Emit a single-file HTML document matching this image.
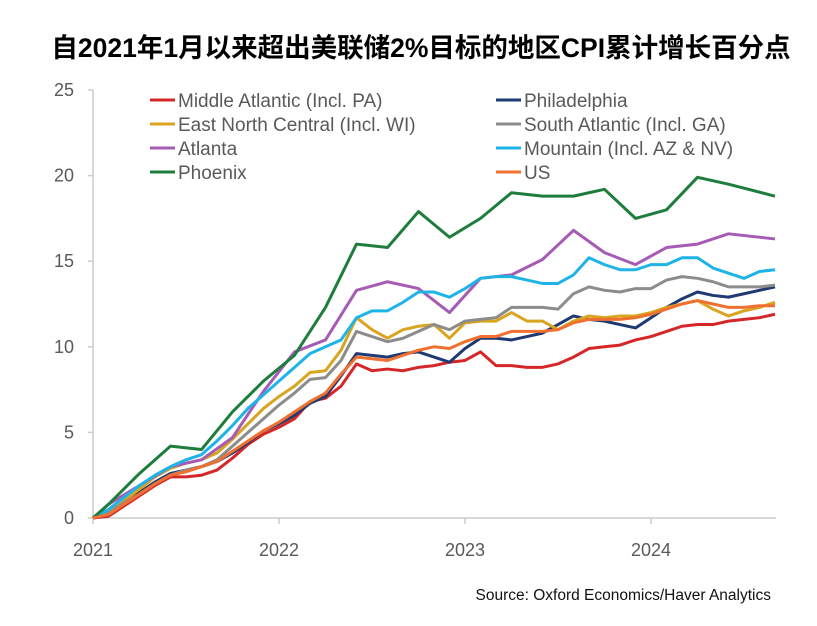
<!DOCTYPE html>
<html><head><meta charset="utf-8"><style>
body{margin:0;background:#fff;width:817px;height:621px;overflow:hidden}
svg text{font-family:"Liberation Sans","Noto Sans CJK SC",sans-serif}
</style></head><body>
<svg width="817" height="621">
<text x="421" y="57" text-anchor="middle" font-size="26.5" font-weight="bold" fill="#000">自2021年1月以来超出美联储2%目标的地区CPI累计增长百分点</text>
<g id="axes"></g><g id="lines"></g><g id="legend"></g>
<text x="771" y="600" text-anchor="end" font-size="15.5" fill="#111">Source: Oxford Economics/Haver Analytics</text>
</svg>
<script>
const yTicks=[0,5,10,15,20,25];
const xTickLabels=["2021","2022","2023","2024"];
const monthly=[...Array(45).keys()];
const biMonths=[0,1,3,5,7,9,11,13,15,17,19,21,23,25,27,29,31,33,35,37,39,41,44];
const midAtl=[0,0.1,0.7,1.3,1.9,2.4,2.4,2.5,2.8,3.5,4.3,4.9,5.3,5.8,6.8,7.0,7.7,9.0,8.6,8.7,8.6,8.8,8.9,9.1,9.2,9.7,8.9,8.9,8.8,8.8,9.0,9.4,9.9,10.0,10.1,10.4,10.6,10.9,11.2,11.3,11.3,11.5,11.6,11.7,11.9];
const phila=[0,0.2,0.8,1.5,2.1,2.6,2.8,3.0,3.3,3.8,4.4,5.1,5.5,6.0,6.7,7.1,8.3,9.6,9.5,9.4,9.6,9.7,9.4,9.1,9.9,10.5,10.5,10.4,10.6,10.8,11.3,11.8,11.6,11.5,11.3,11.1,11.7,12.3,12.8,13.2,13.0,12.9,13.1,13.3,13.5];
const encen=[0,0.4,1.0,1.7,2.4,2.9,3.2,3.4,3.8,4.6,5.5,6.4,7.1,7.7,8.5,8.6,9.8,11.7,11.0,10.5,11.0,11.2,11.3,10.5,11.4,11.5,11.5,12.0,11.5,11.5,11.0,11.5,11.8,11.7,11.8,11.8,12.0,12.3,12.5,12.7,12.2,11.8,12.1,12.3,12.6];
const satl=[0,0.3,0.9,1.4,2.0,2.5,2.8,3.0,3.4,4.2,5.0,5.8,6.6,7.3,8.1,8.2,9.2,10.9,10.6,10.3,10.5,10.9,11.3,11.0,11.5,11.6,11.7,12.3,12.3,12.3,12.2,13.1,13.5,13.3,13.2,13.4,13.4,13.9,14.1,14.0,13.8,13.5,13.5,13.5,13.6];
const atlanta=[0,0.8,1.9,3.0,3.4,4.7,7.4,9.7,10.4,13.3,13.8,13.4,12.0,14.0,14.2,15.1,16.8,15.5,14.8,15.8,16.0,16.6,16.3];
const mountain=[0,0.5,1.2,1.9,2.5,3.0,3.4,3.7,4.5,5.4,6.4,7.2,8.0,8.8,9.6,10.0,10.4,11.7,12.1,12.1,12.6,13.2,13.2,12.9,13.4,14.0,14.1,14.1,13.9,13.7,13.7,14.2,15.2,14.8,14.5,14.5,14.8,14.8,15.2,15.2,14.6,14.3,14.0,14.4,14.5];
const phoenix=[0,0.8,2.6,4.2,4.0,6.2,8.0,9.5,12.3,16.0,15.8,17.9,16.4,17.5,19.0,18.8,18.8,19.2,17.5,18.0,19.9,19.5,18.8];
const us=[0,0.2,0.8,1.4,2.0,2.5,2.7,3.0,3.3,3.9,4.5,5.1,5.6,6.2,6.8,7.3,8.4,9.4,9.3,9.2,9.5,9.8,10.0,9.9,10.3,10.6,10.6,10.9,10.9,10.9,11.0,11.4,11.6,11.6,11.6,11.7,11.9,12.2,12.5,12.7,12.5,12.3,12.3,12.4,12.4];
const series=[
 {name:"Middle Atlantic (Incl. PA)",color:"#d62728",x:monthly,y:midAtl,id:"middle-atlantic"},
 {name:"Philadelphia",color:"#1f3a73",x:monthly,y:phila,id:"philadelphia"},
 {name:"East North Central (Incl. WI)",color:"#d9a520",x:monthly,y:encen,id:"east-north-central"},
 {name:"South Atlantic (Incl. GA)",color:"#8c8c8c",x:monthly,y:satl,id:"south-atlantic"},
 {name:"Atlanta",color:"#a65cb5",x:biMonths,y:atlanta,id:"atlanta"},
 {name:"Mountain (Incl. AZ & NV)",color:"#1eb4e8",x:monthly,y:mountain,id:"mountain"},
 {name:"Phoenix",color:"#1e7d3c",x:biMonths,y:phoenix,id:"phoenix"},
 {name:"US",color:"#f07030",x:monthly,y:us,id:"us"}];
const NS="http://www.w3.org/2000/svg";
const X=m=>93+m*15.5, Y=v=>518-v*17.12;
function mk(t,a,p){const e=document.createElementNS(NS,t);for(const k in a)e.setAttribute(k,a[k]);p.appendChild(e);return e;}
const axes=document.getElementById('axes');
const ya=mk('line',{x1:93,y1:Y(25),x2:93,y2:518,stroke:'#ccc','stroke-width':1.5},axes);


const xa=mk('line',{x1:93,y1:518,x2:776,y2:518,stroke:'#ccc','stroke-width':1.5},axes);


yTicks.forEach(v=>{
 mk('line',{x1:88,y1:Y(v),x2:93,y2:Y(v),stroke:'#ccc','stroke-width':1.5},axes);
 const t=mk('text',{x:74,y:Y(v)+6,'text-anchor':'end','font-size':18,fill:'#595959'},axes);
 t.textContent=v;
 
 
});
xTickLabels.forEach((l,i)=>{
 const x=X(i*12);
 mk('line',{x1:x,y1:518,x2:x,y2:524,stroke:'#ccc','stroke-width':1.5},axes);
 const t=mk('text',{x:x,y:556,'text-anchor':'middle','font-size':18,fill:'#595959'},axes);
 t.textContent=l;
 
 
});
const lines=document.getElementById('lines');
series.forEach(s=>{
 const p=mk('polyline',{points:s.y.map((v,i)=>X(s.x[i])+','+Y(v)).join(' '),fill:'none',stroke:s.color,'stroke-width':3,'stroke-linejoin':'round'},lines);
 
 
});
const lg=document.getElementById('legend');
series.forEach((s,i)=>{
 const cx=i%2?496:150, cy=100+Math.floor(i/2)*24;
 const g=mk('g',{},lg);
 
 
 mk('line',{x1:cx,y1:cy,x2:cx+25,y2:cy,stroke:s.color,'stroke-width':3},g);
 const t=mk('text',{x:cx+28,y:cy+7,'font-size':19,fill:'#595959'},g);
 t.textContent=s.name;
});
</script>
</body></html>
